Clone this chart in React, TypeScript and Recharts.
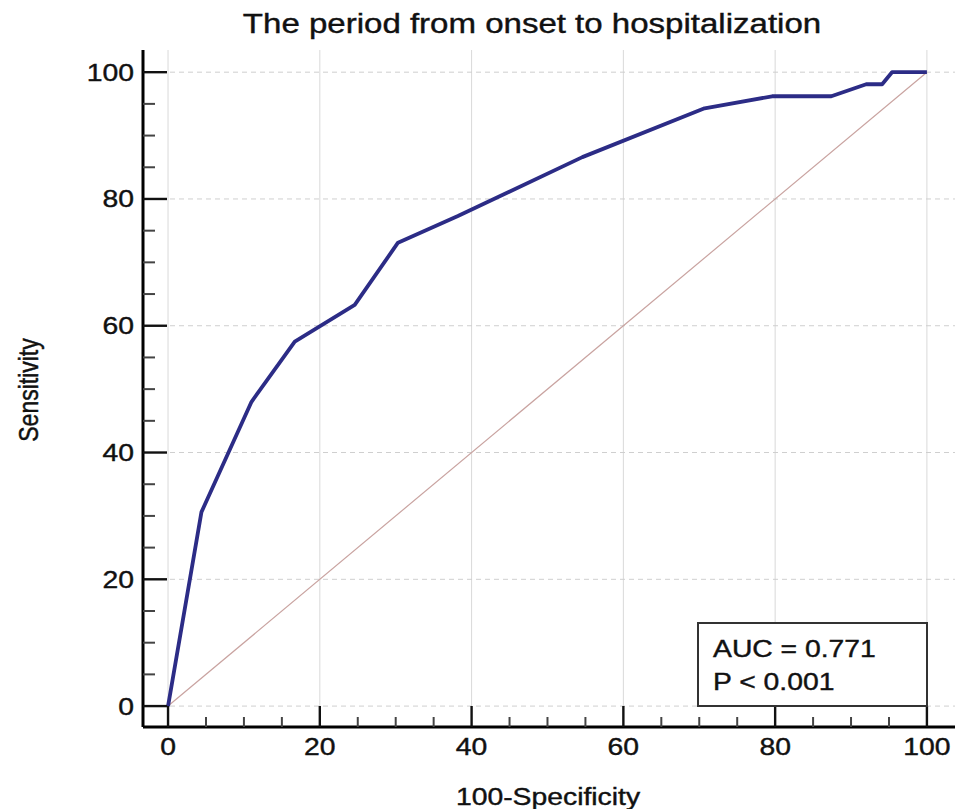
import React from "react";
import { LineChart, Line, XAxis, YAxis, CartesianGrid } from "recharts";

// ROC curve
const rocX = [0, 4.4, 11.0, 16.7, 24.6, 30.3, 38.2, 54.6, 70.7, 79.6, 87.4, 92.0, 94.1, 95.4, 100];
const rocY = [0, 30.6, 48.0, 57.5, 63.3, 73.1, 77.3, 86.6, 94.3, 96.2, 96.2, 98.1, 98.1, 100, 100];

// reference diagonal
const diagX = [0, 100];
const diagY = [0, 100];

// ticks every 5, labels every 20
const axisTicks = [0, 5, 10, 15, 20, 25, 30, 35, 40, 45, 50, 55, 60, 65, 70, 75, 80, 85, 90, 95, 100];
const labelTicks = [0, 20, 40, 60, 80, 100];

const FONT = "'Liberation Sans', Arial, Helvetica, sans-serif";
const STRETCH = 1.18; // the reference text is a bit wide
const INK = "#111";

const rocData = rocX.map((x, i) => ({ x, y: rocY[i] }));
const diagData = diagX.map((x, i) => ({ x, y: diagY[i] }));

// a little stroke to thicken the glyphs like the blurry original
const textStyle = { fontFamily: FONT, fill: INK, stroke: INK, strokeWidth: 0.4 };

function XTick(props: any) {
  const { x, y, payload } = props;
  const v = payload.value;
  const major = labelTicks.includes(v);
  return (
    <g>
      <line x1={x} x2={x} y1={y} y2={y - (major ? 21 : 10)} stroke={major ? "#111" : "#444"} strokeWidth={major ? 2.4 : 2} />
      {major && (
        <text
          transform={`translate(${x},${y + 28}) scale(${STRETCH},1)`}
          textAnchor="middle"
          fontSize={24}
          style={textStyle}
        >
          {v}
        </text>
      )}
    </g>
  );
}

function YTick(props: any) {
  const { x, y, payload } = props;
  const v = payload.value;
  const major = labelTicks.includes(v);
  return (
    <g>
      <line x1={x} x2={x + (major ? 24 : 12)} y1={y} y2={y} stroke={major ? "#111" : "#444"} strokeWidth={major ? 2.4 : 2} />
      {major && (
        <text
          transform={`translate(${x - 9},${y + 8.5}) scale(${STRETCH},1)`}
          textAnchor="end"
          fontSize={24}
          style={textStyle}
        >
          {v}
        </text>
      )}
    </g>
  );
}

export default function App() {
  return (
    <div style={{ position: "absolute", left: 0, top: 0, width: 960, height: 809, background: "#fff" }}>
      <LineChart width={960} height={809} margin={{ top: 50, right: 5, bottom: 0, left: 0 }}>
        <CartesianGrid
          horizontal={false}
          verticalValues={labelTicks}
          stroke="#d9d9d9"
          strokeWidth={1}
        />
        <CartesianGrid
          vertical={false}
          horizontalValues={labelTicks}
          stroke="#cfcfcf"
          strokeDasharray="5 4"
          strokeWidth={1}
        />
        <XAxis
          type="number"
          dataKey="x"
          domain={[-3.3, 103.7]}
          allowDataOverflow
          ticks={axisTicks}
          interval={0}
          height={82}
          tickSize={0}
          tickMargin={0}
          axisLine={{ stroke: "#000", strokeWidth: 3 }}
          tickLine={false}
          tick={<XTick />}
        />
        <YAxis
          type="number"
          dataKey="y"
          domain={[-3.3, 103.5]}
          allowDataOverflow
          ticks={axisTicks}
          interval={0}
          width={143}
          tickSize={0}
          tickMargin={0}
          axisLine={{ stroke: "#000", strokeWidth: 3 }}
          tickLine={false}
          tick={<YTick />}
        />
        <Line
          data={diagData}
          dataKey="y"
          type="linear"
          stroke="#c9a3a0"
          strokeWidth={1.2}
          dot={false}
          activeDot={false}
          isAnimationActive={false}
        />
        <Line
          data={rocData}
          dataKey="y"
          type="linear"
          stroke="#2c2c86"
          strokeWidth={3.8}
          strokeLinejoin="round"
          dot={false}
          activeDot={false}
          isAnimationActive={false}
        />
      </LineChart>

      <svg
        width={960}
        height={809}
        style={{ position: "absolute", left: 0, top: 0, pointerEvents: "none" }}
      >
        <text
          transform={`translate(532,33) scale(${STRETCH},1)`}
          textAnchor="middle"
          fontSize={28}
          style={textStyle}
        >
          The period from onset to hospitalization
        </text>
        <text
          transform={`translate(548,805) scale(${STRETCH},1)`}
          textAnchor="middle"
          fontSize={24}
          style={textStyle}
        >
          100-Specificity
        </text>
        <text
          transform={`translate(38,390) rotate(-90) scale(1,${STRETCH})`}
          textAnchor="middle"
          fontSize={23}
          style={textStyle}
        >
          Sensitivity
        </text>

        <rect x={698} y={623} width={229} height={83} fill="#fff" stroke="#333" strokeWidth={2} />
        <text
          transform={`translate(713,657) scale(${STRETCH},1)`}
          fontSize={24}
          style={textStyle}
        >
          AUC = 0.771
        </text>
        <text
          transform={`translate(713,690) scale(${STRETCH},1)`}
          fontSize={24}
          style={textStyle}
        >
          P &lt; 0.001
        </text>
      </svg>
    </div>
  );
}
